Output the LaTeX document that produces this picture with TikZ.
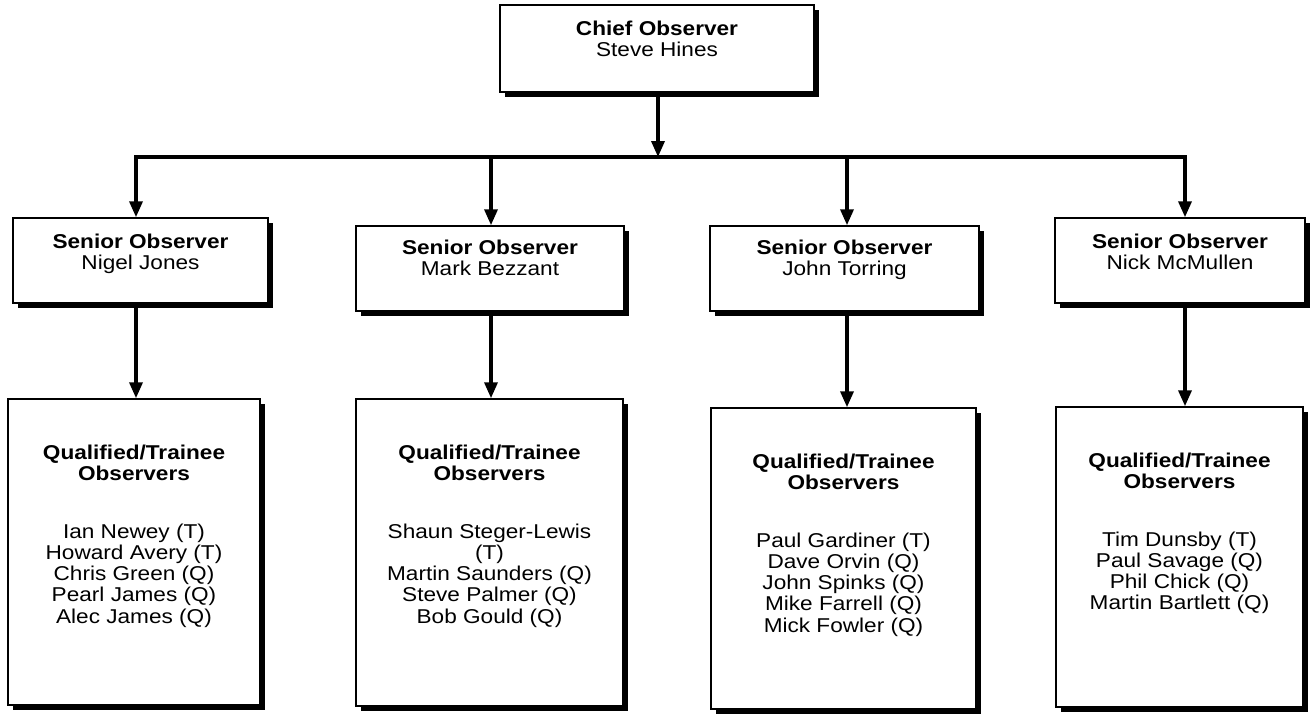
\documentclass[tikz,border=0pt]{standalone}
\usepackage{fontspec}
\setmainfont{Liberation Sans}[FakeStretch=1.13]
\usetikzlibrary{arrows.meta,shadows}
\newcommand{\hd}[1]{\textbf{#1}}
\begin{document}
\begin{tikzpicture}[x=1pt,y=-1pt,
  box/.style={draw, line width=1.5pt, fill=white, rectangle, inner sep=0pt,
    drop shadow={shadow xshift=4.5pt, shadow yshift=-4.5pt, opacity=1, fill=black}},
  txt/.style={anchor=north, align=center, inner sep=0pt, font=\fontsize{20}{21.3}\selectfont},
  conn/.style={line width=3.5pt},
  tip/.tip={Triangle[length=16pt,width=13pt]},
  arr/.style={conn, -tip}]
\useasboundingbox (0,0) rectangle (1310,715);

% chief
\node[box, minimum width=314pt, minimum height=87pt] (c) at (657,48.5) {};
\node[txt] (ct) at ([yshift=-12pt]c.north) {\rule{0pt}{19pt}\hd{Chief Observer}\\Steve Hines};

% senior boxes
\node[box, minimum width=255pt, minimum height=85pt] (s1) at (140.5,260.5) {};
\node[box, minimum width=268pt, minimum height=85pt] (s2) at (490,268.5) {};
\node[box, minimum width=269pt, minimum height=85pt] (s3) at (844.5,268.5) {};
\node[box, minimum width=250pt, minimum height=85pt] (s4) at (1180,260.5) {};
\node[txt] (s1t) at ([yshift=-12pt]s1.north) {\rule{0pt}{19pt}\hd{Senior Observer}\\Nigel Jones};
\node[txt] (s2t) at ([yshift=-10pt]s2.north) {\rule{0pt}{19pt}\hd{Senior Observer}\\Mark Bezzant};
\node[txt] (s3t) at ([yshift=-10pt]s3.north) {\rule{0pt}{19pt}\hd{Senior Observer}\\John Torring};
\node[txt] (s4t) at ([yshift=-12pt]s4.north) {\rule{0pt}{19pt}\hd{Senior Observer}\\Nick McMullen};

% qualified boxes
\node[box, minimum width=252pt, minimum height=306pt] (q1) at (134,552) {};
\node[box, minimum width=267pt, minimum height=307pt] (q2) at (489.5,552.5) {};
\node[box, minimum width=265pt, minimum height=301pt] (q3) at (843.5,558.5) {};
\node[box, minimum width=247pt, minimum height=300pt] (q4) at (1179.5,557) {};
\node[txt] (q1t) at ([yshift=-42pt]q1.north) {\rule{0pt}{19pt}\hd{Qualified/Trainee}\\\hd{Observers}\\[36pt]Ian Newey (T)\\Howard Avery (T)\\Chris Green (Q)\\Pearl James (Q)\\Alec James (Q)};
\node[txt] (q2t) at ([yshift=-42pt]q2.north) {\rule{0pt}{19pt}\hd{Qualified/Trainee}\\\hd{Observers}\\[36pt]Shaun Steger-Lewis\\(T)\\Martin Saunders (Q)\\Steve Palmer (Q)\\Bob Gould (Q)};
\node[txt] (q3t) at ([yshift=-42pt]q3.north) {\rule{0pt}{19pt}\hd{Qualified/Trainee}\\\hd{Observers}\\[36pt]Paul Gardiner (T)\\Dave Orvin (Q)\\John Spinks (Q)\\Mike Farrell (Q)\\Mick Fowler (Q)};
\node[txt] (q4t) at ([yshift=-42pt]q4.north) {\rule{0pt}{19pt}\hd{Qualified/Trainee}\\\hd{Observers}\\[36pt]Tim Dunsby (T)\\Paul Savage (Q)\\Phil Chick (Q)\\Martin Bartlett (Q)};

% bus coordinates
\coordinate (j0) at (658,157);
\coordinate (b1) at (136,157);
\coordinate (b2) at (491,157);
\coordinate (b3) at (847,157);
\coordinate (b4) at (1185,157);

% connectors
\draw[arr] (c.south -| j0) -- (j0);
\draw[conn, tip-tip] (b1 |- s1.north) -- (b1) -- (b4) -- (b4 |- s4.north);
\draw[arr] (b2) -- (b2 |- s2.north);
\draw[arr] (b3) -- (b3 |- s3.north);
\draw[arr] (b1 |- s1.south) -- (b1 |- q1.north);
\draw[arr] (b2 |- s2.south) -- (b2 |- q2.north);
\draw[arr] (b3 |- s3.south) -- (b3 |- q3.north);
\draw[arr] (b4 |- s4.south) -- (b4 |- q4.north);
\end{tikzpicture}
\end{document}
